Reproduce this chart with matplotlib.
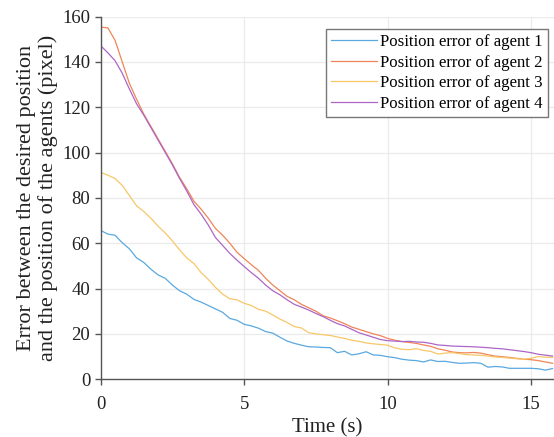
import matplotlib
matplotlib.use('Agg')
import matplotlib.pyplot as plt
import numpy as np

# time grid (s)
t = np.arange(64) * 0.25

err_agent1 = [65.6, 64.0, 63.5, 60.2, 57.5, 53.5, 51.5, 48.5, 46.0, 44.5,
              41.5, 39.0, 37.5, 35.2, 34.0, 32.5, 31.0, 29.5, 26.8, 26.0,
              24.2, 23.5, 22.5, 21.0, 20.3, 18.5, 16.8, 15.8, 15.0, 14.3,
              14.2, 14.0, 13.9, 11.7, 12.3, 10.7, 11.2, 12.1, 10.7, 10.5,
              9.9, 9.5, 8.8, 8.4, 8.2, 7.6, 8.5, 7.8, 7.9, 7.4,
              7.0, 7.1, 7.3, 7.0, 5.3, 5.6, 5.4, 4.8, 4.8, 4.8,
              4.8, 4.6, 4.0, 4.7]
err_agent2 = [155.3, 155.0, 149.5, 140.0, 130.5, 123.5, 117.0, 111.5, 106.0, 100.5,
              95.0, 89.0, 84.0, 78.5, 75.0, 71.0, 66.5, 63.5, 60.0, 56.0,
              53.2, 50.5, 48.0, 44.5, 41.5, 39.0, 36.5, 35.0, 33.0, 31.5,
              30.0, 28.0, 27.0, 25.8, 24.5, 23.0, 22.0, 21.0, 20.0, 19.2,
              18.0, 17.2, 16.6, 16.2, 15.8, 15.1, 14.5, 13.4, 12.8, 12.0,
              11.7, 11.6, 11.8, 11.5, 10.8, 10.2, 9.9, 9.6, 9.2, 8.8,
              8.6, 8.2, 7.6, 7.0]
err_agent3 = [91.2, 90.0, 88.5, 85.5, 81.0, 76.5, 74.0, 71.0, 67.5, 64.5,
              61.0, 57.0, 53.5, 51.0, 47.0, 44.0, 40.5, 37.5, 35.5, 35.0,
              33.5, 32.5, 30.8, 30.0, 28.3, 26.5, 25.0, 23.2, 22.6, 20.5,
              20.0, 19.6, 19.3, 18.6, 18.0, 17.2, 16.7, 16.0, 15.6, 15.3,
              15.0, 13.8, 13.2, 13.0, 13.5, 12.7, 12.3, 11.1, 11.5, 11.7,
              11.3, 10.8, 10.7, 10.5, 10.2, 9.8, 9.6, 9.3, 9.0, 8.8,
              9.2, 10.0, 9.7, 9.6]
err_agent4 = [147.1, 144.0, 140.5, 135.0, 128.0, 121.5, 116.5, 111.0, 105.5, 100.0,
              94.5, 88.5, 83.0, 77.0, 72.8, 68.0, 62.5, 59.0, 55.5, 52.5,
              49.7, 47.0, 44.5, 41.5, 39.0, 37.2, 35.0, 33.0, 31.8, 30.5,
              29.0, 27.6, 26.0, 24.5, 23.5, 22.0, 20.5, 19.5, 18.5, 17.5,
              17.0, 16.8, 16.6, 16.7, 16.4, 16.3, 15.8, 15.1, 14.9, 14.6,
              14.5, 14.4, 14.3, 14.1, 13.9, 13.6, 13.4, 13.0, 12.6, 12.2,
              11.7, 11.0, 10.6, 10.2]

labels = ['Position error of agent 1', 'Position error of agent 2',
          'Position error of agent 3', 'Position error of agent 4']
colors = ['#5aa8e0', '#ef8558', '#f7c768', '#ad66c6']

plt.rcParams['font.family'] = ['Liberation Serif', 'DejaVu Serif']

fig = plt.figure(figsize=(5.54, 4.37), dpi=100)
ax = fig.add_axes([0.1818, 0.1323, 0.8182, 0.8299])

for y, lab, c in zip([err_agent1, err_agent2, err_agent3, err_agent4], labels, colors):
    ax.plot(t, y, color=c, linewidth=0.9, label=lab)

ax.set_xlim(0, 15.8)
ax.set_ylim(0, 160)
ax.set_xticks([0, 5, 10, 15])
ax.set_yticks(np.arange(0, 161, 20))
ax.grid(True, color='#ebebeb', linewidth=0.9)
ax.set_axisbelow(True)

for s in ['top', 'right']:
    ax.spines[s].set_visible(False)
for s in ['left', 'bottom']:
    ax.spines[s].set_color('#555555')
    ax.spines[s].set_linewidth(1.0)
ax.tick_params(length=4, width=1, color='#555555', labelsize=13.5, labelcolor='#222222')
ax.tick_params(axis='x', pad=8)

ax.set_xlabel('Time (s)', fontsize=15, color='#222222', labelpad=4)
ax.set_ylabel('Error between the desired position\nand the position of the agents (pixel)',
              fontsize=16, color='#222222', linespacing=1.15, labelpad=3)

leg = ax.legend(loc='upper right', bbox_to_anchor=(0.986, 0.965), fontsize=12.1,
                frameon=True, fancybox=False, edgecolor='#777777', framealpha=1,
                handlelength=2.7, handletextpad=0.2, borderpad=0.3,
                labelspacing=0.27, borderaxespad=0.0)
leg.get_frame().set_linewidth(1.0)

fig.savefig('out.png', dpi=100)
